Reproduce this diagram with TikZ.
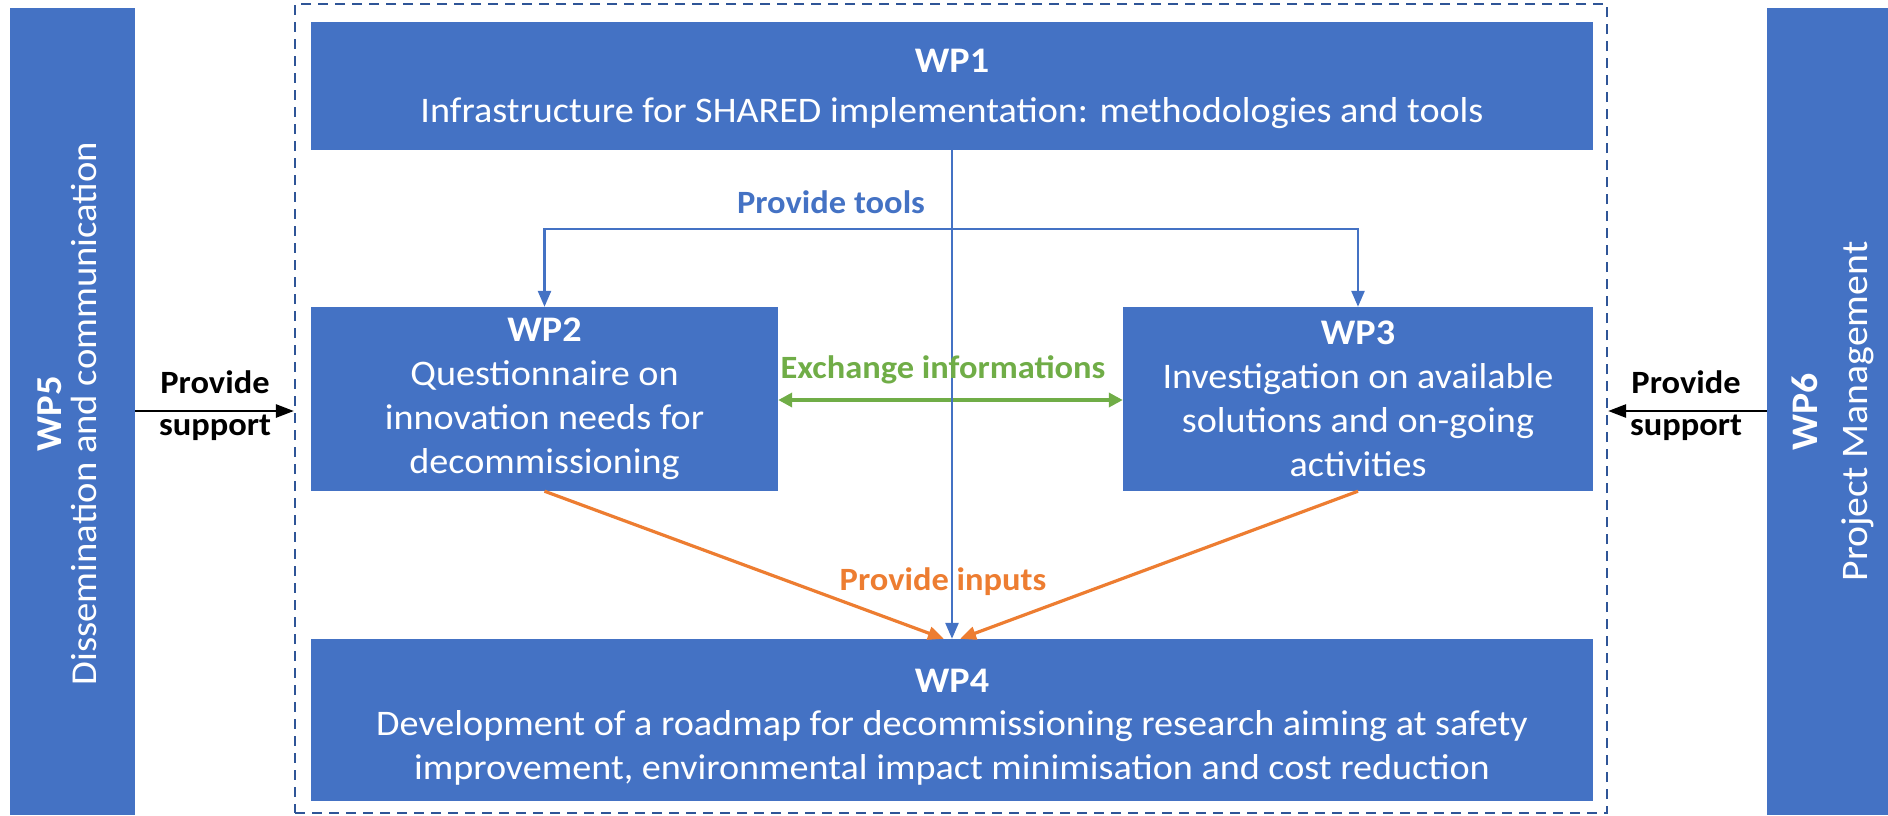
\documentclass[tikz,border=0pt]{standalone}
\usepackage{fontspec}
\setmainfont[FakeStretch=1.06]{Carlito}
\usetikzlibrary{arrows.meta}
\definecolor{boxblue}{HTML}{4472C4}
\definecolor{dashblue}{HTML}{2F5597}
\definecolor{orangeC}{HTML}{ED7D31}
\definecolor{greenC}{HTML}{70AD47}
\begin{document}
\begin{tikzpicture}[x=1pt,y=-1pt,
  wpbox/.style={fill=boxblue, draw=none, text=white, align=center, inner sep=0pt,
    font=\fontsize{36}{44}\selectfont},
  wptext/.style={text=white, align=center, inner sep=0pt,
    font=\fontsize{36}{43.5}\selectfont},
  sidebox/.style={fill=boxblue, draw=none, inner sep=0pt},
  sidetext/.style={text=white, align=center, rotate=90, inner sep=0pt,
    font=\fontsize{36.5}{35}\selectfont},
  dashframe/.style={draw=dashblue, line width=2.2pt, dash pattern=on 10pt off 7pt, inner sep=0pt},
  bluearr/.style={draw=boxblue, line width=2.6pt, -{Triangle[length=16pt,width=13pt]}},
  bluelink/.style={draw=boxblue, line width=2.6pt, {Triangle[length=16pt,width=13pt]}-{Triangle[length=16pt,width=13pt]}},
  greenarr/.style={draw=greenC, line width=4pt, {Triangle[length=14pt,width=14pt]}-{Triangle[length=14pt,width=14pt]}},
  orangearr/.style={draw=orangeC, line width=3.2pt, -{Triangle[length=16pt,width=13pt]}},
  blackarr/.style={draw=black, line width=2.6pt, -{Triangle[length=18pt,width=13pt]}},
  lbl/.style={inner sep=0pt, align=center, font=\bfseries\fontsize{32.5}{42}\selectfont}
]
\useasboundingbox (0,0) rectangle (1888,815);

% dashed frame
\node[dashframe, minimum width=1312pt, minimum height=809pt] (frame) at (951,408.5) {};

% side boxes
\node[sidebox, minimum width=125pt, minimum height=807pt] (wp5) at (72.5,411.5) {};
\node[sidetext] (wp5t) at ([xshift=-5pt,yshift=-2pt]wp5.center) {\textbf{WP5}\\Dissemination and communication};
\node[sidebox, minimum width=121pt, minimum height=807pt] (wp6) at (1827.5,411.5) {};
\node[sidetext, font=\fontsize{37.5}{50}\selectfont] (wp6t) at ([xshift=5pt]wp6.center) {\textbf{WP6}\\Project Management};

% WP boxes
\node[sidebox, minimum width=1282pt, minimum height=128pt] (wp1) at (952,86) {};
\node[wptext] (wp1t) at ([yshift=-3pt]wp1.center)
  {\textbf{WP1}\\[6pt]Infrastructure for SHARED implementation: methodologies and tools};
\node[wpbox, minimum width=467pt, minimum height=184pt] (wp2) at (544.5,399)
  {\textbf{WP2}\\Questionnaire on\\innovation needs for\\decommissioning};
\node[wpbox, minimum width=470pt, minimum height=184pt] (wp3) at (1358,399)
  {\textbf{WP3}\\Investigation on available\\solutions and on-going\\activities};
\node[sidebox, minimum width=1282pt, minimum height=162pt] (wp4) at (952,720) {};
\node[wptext] (wp4t) at ([yshift=-7pt]wp4.center)
  {\textbf{WP4}\\Development of a roadmap for decommissioning research aiming at safety\\improvement, environmental impact minimisation and cost reduction};

% connectors
\coordinate (tl) at (952,229);
\coordinate (ex) at (952,400);
\coordinate (sp) at (0,411);
\draw[bluelink] (wp2.north) |- (tl) -| (wp3.north);
\draw[greenarr] (wp2.east |- ex) -- (wp3.west |- ex);
\draw[orangearr] (wp2.south) -- ([xshift=-8pt]wp4.north);
\draw[orangearr] (wp3.south) -- ([xshift=8pt]wp4.north);
\draw[bluearr] (wp1.south) -- (wp4.north);
\draw[blackarr] (wp5.east |- sp) -- (frame.west |- sp);
\draw[blackarr] (wp6.west |- sp) -- (frame.east |- sp);

% labels
\node[lbl, text=boxblue] (lt) at (831,202) {Provide tools};
\node[lbl, text=greenC] (le) at (943,370) {Exchange informations};
\node[lbl, text=orangeC] (li) at (943,582) {Provide inputs};
\node[lbl, text=black] (ls1) at (215,406) {Provide\\support};
\node[lbl, text=black] (ls2) at (1686,406) {Provide\\support};
\end{tikzpicture}
\end{document}
